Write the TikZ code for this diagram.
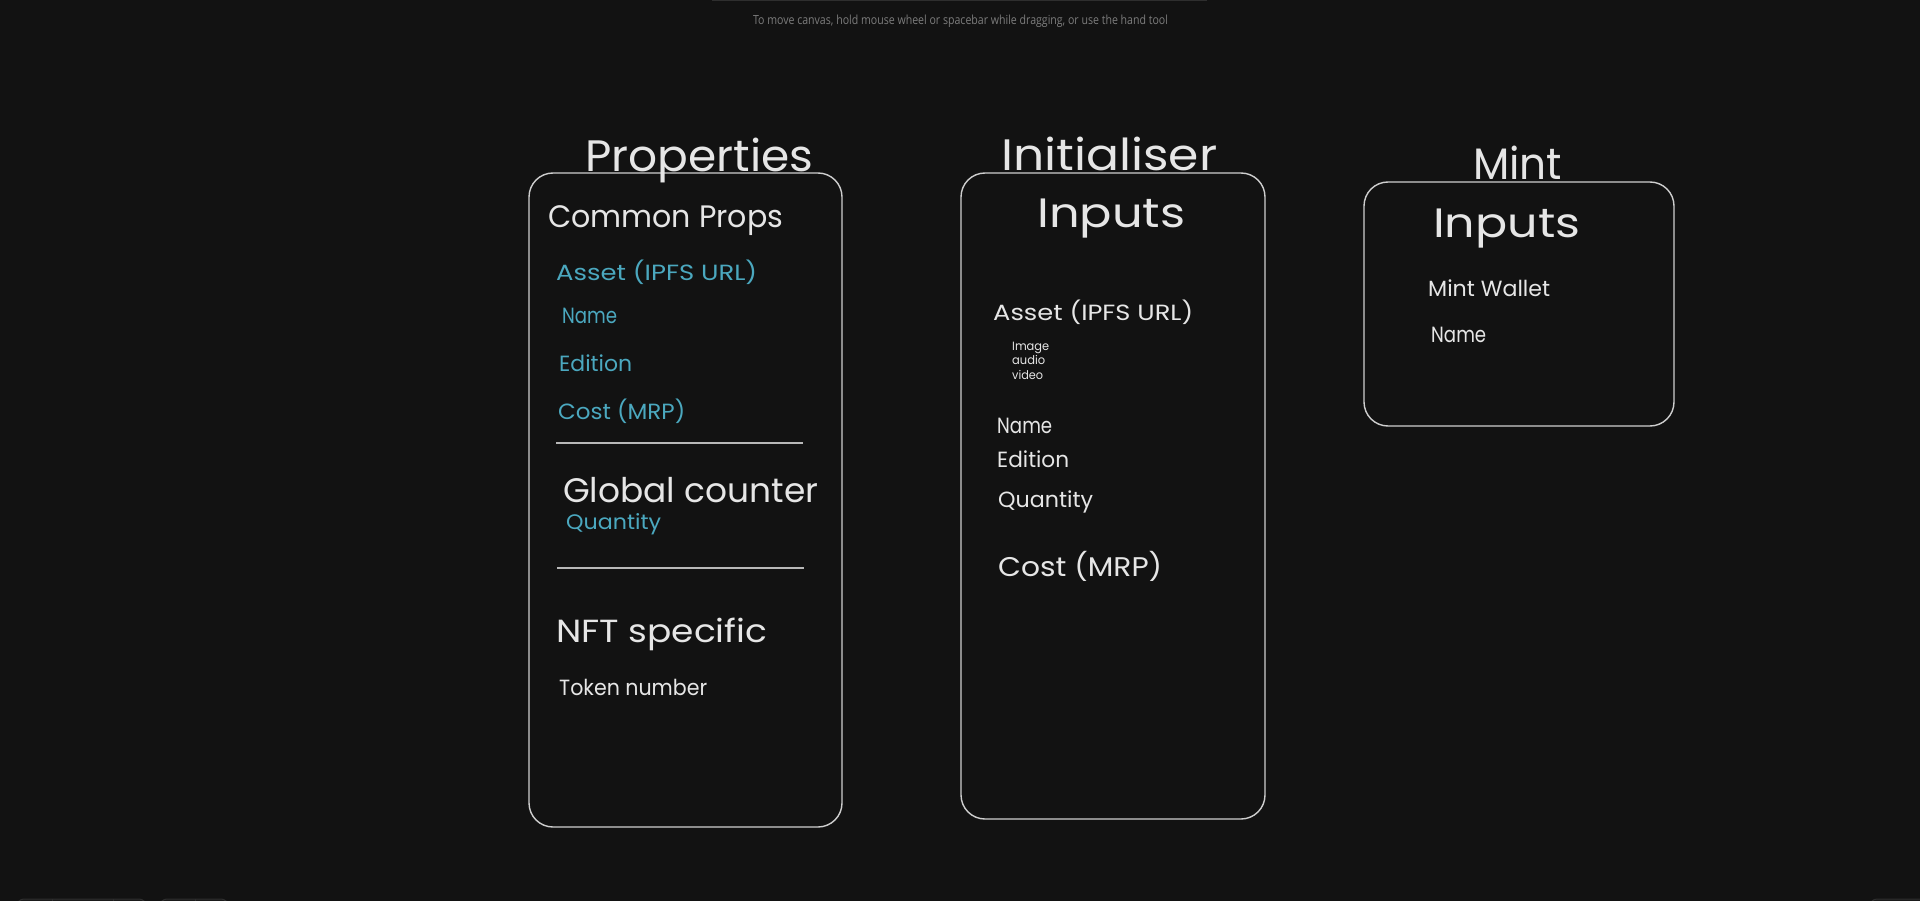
\documentclass[tikz,border=0pt]{standalone}
\usepackage{fontspec}
\usepackage{graphicx}
\setmainfont{Poppins}
\newfontfamily\uifont{Open Sans}
\definecolor{canvas}{HTML}{121212}
\definecolor{ink}{HTML}{E6E6E6}
\definecolor{teal}{HTML}{4BA8BF}
\definecolor{frame}{HTML}{CFCFCF}
\definecolor{rule}{HTML}{B8B8B8}
\definecolor{hint}{HTML}{7C7C7C}
\definecolor{ui}{HTML}{2E2E2E}
\definecolor{uifill}{HTML}{1A1A1A}
% text set at a given size, then stretched to a given width
\newcommand\fitw[3]{\resizebox{#1pt}{\height}{\fontsize{#2pt}{#2pt}\selectfont #3}}
\tikzset{
  txt/.style={inner sep=0pt, anchor=base west, text=ink},
  tealtxt/.style={txt, text=teal},
  panel/.style={draw=frame, line width=1.4pt, rounded corners=24pt},
  divider/.style={draw=rule, line width=1.3pt},
  uibar/.style={draw=ui, fill=uifill, line width=1pt, rounded corners=7pt},
}
\begin{document}
\begin{tikzpicture}[x=1pt, y=-1pt]
\useasboundingbox (0,0) rectangle (1920,901);
\clip (0,0) rectangle (1920,901);
\fill[canvas] (0,0) rectangle (1920,901);

% editor chrome
\draw[ui, line width=2pt] (712,0.5) -- (1207,0.5);
\node[inner sep=0pt, anchor=base, text=hint] (hinttext) at (960.5,25)
  {\uifont\fitw{415}{12.5}{To move canvas, hold mouse wheel or spacebar while dragging, or use the hand tool}};
\draw[uibar] (17,899) rectangle (146,935);
\draw[ui, line width=1pt] (52,899) -- (52,935) (113,899) -- (113,935);
\draw[uibar] (160,899) rectangle (228,935);
\draw[ui, line width=1pt] (195,899) -- (195,935);
\draw[uibar] (1870,899) rectangle (1935,935);

% panels
\draw[panel] (529,173) rectangle (842,827);
\draw[panel] (961,173) rectangle (1265,819);
\draw[panel] (1364,182) rectangle (1674,426);

% Properties
\node[txt] (propT) at (585,172) {\fitw{228}{44}{Properties}};
\node[txt] (common) at (548,228) {\fitw{235}{31}{Common Props}};
\node[tealtxt] (pAsset) at (556,280) {\fitw{201}{22}{Asset (IPFS URL)}};
\node[tealtxt] (pName) at (562,324) {\fitw{55}{22}{Name}};
\node[tealtxt] (pEdition) at (559,372) {\fitw{73}{22}{Edition}};
\node[tealtxt] (pCost) at (558,419) {\fitw{127}{22}{Cost (MRP)}};
\draw[divider] (556,443) -- (803,443);
\node[txt] (global) at (563,502) {\fitw{255}{34}{Global counter}};
\node[tealtxt] (pQty) at (566,529) {\fitw{95}{21}{Quantity}};
\draw[divider] (557,568) -- (804,568);
\node[txt] (nft) at (556,642) {\fitw{211}{32}{NFT specific}};
\node[txt] (token) at (559,695) {\fitw{148}{22}{Token number}};

% Initialiser
\node[txt] (initT) at (1001,171) {\fitw{216}{44}{Initialiser}};
\node[txt] (iInputs) at (1037,228) {\fitw{148}{41}{Inputs}};
\node[txt] (iAsset) at (993,320) {\fitw{200}{22}{Asset (IPFS URL)}};
\node[txt] (iImage) at (1012,350) {\fitw{37}{12}{Image}};
\node[txt] (iAudio) at (1012,365) {\fitw{33}{12}{audio}};
\node[txt] (iVideo) at (1012,380) {\fitw{31}{12}{video}};
\node[txt] (iName) at (997,433) {\fitw{55}{22}{Name}};
\node[txt] (iEdition) at (997,467) {\fitw{72}{22}{Edition}};
\node[txt] (iQty) at (998,507) {\fitw{95}{22}{Quantity}};
\node[txt] (iCost) at (998,576) {\fitw{164}{27}{Cost (MRP)}};

% Mint
\node[txt] (mintT) at (1473,180) {\fitw{89}{44}{Mint}};
\node[txt] (mInputs) at (1433,238) {\fitw{147}{41}{Inputs}};
\node[txt] (mWallet) at (1428,297) {\fitw{122}{22}{Mint Wallet}};
\node[txt] (mName) at (1431,343) {\fitw{55}{22}{Name}};
\end{tikzpicture}
\end{document}
